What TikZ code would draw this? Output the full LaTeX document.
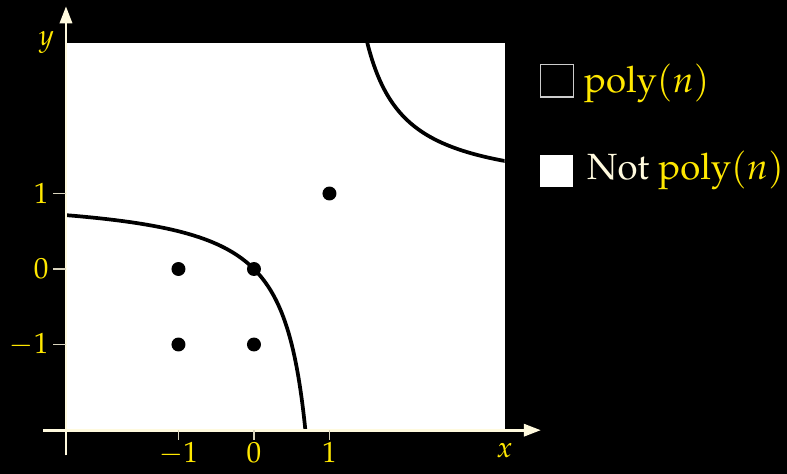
\documentclass[tikz,border=0pt]{standalone}
\usepackage[T1]{fontenc}
\usepackage{mathpazo}
\usetikzlibrary{arrows.meta,positioning}
\definecolor{SlideYellow}{RGB}{255,232,0}
\definecolor{SlideCream}{RGB}{255,250,222}

\begin{document}
\begin{tikzpicture}[x=2cm,y=2cm,>={Triangle[length=0.45cm,width=0.32cm]},
  axis/.style={->,SlideCream,line width=2.2pt},
  tickmark/.style={SlideCream!85!black,line width=1pt},
  ticklabel/.style={SlideYellow,font=\fontsize{22}{26}\selectfont},
  legendtext/.style={SlideYellow,font=\fontsize{27.5}{32}\selectfont,anchor=base west,inner sep=0pt},
  dot/.style={circle,fill=black,inner sep=0pt,minimum size=0.37cm}]
\useasboundingbox (-3.364,-2.715) rectangle (7.06,3.563);
\fill[black] (-3.364,-2.715) rectangle (7.06,3.563);
\fill[white] (-2.49,-2.135) rectangle (3.32,2.99);
% the two branches of (x-1)(y-1)=1
\begin{scope}
\clip (-2.49,-2.135) rectangle (3.32,2.99);
\draw[line width=2.8pt,variable=\s,domain=-1.2:1.3,samples=90] plot ({1-exp(\s)},{1-exp(-\s)});
\draw[line width=2.8pt,variable=\s,domain=-0.75:0.9,samples=90] plot ({1+exp(\s)},{1+exp(-\s)});
\end{scope}
\node[dot] (pmm) at (-1,-1) {};
\node[dot] (pzm) at (0,-1) {};
\node[dot] (pmz) at (-1,0) {};
\node[dot] (pzz) at (0,0) {};
\node[dot] (ppp) at (1,1) {};
% axes
\coordinate (xstart) at (-2.79,-2.135);
\coordinate (xend) at (3.8,-2.135);
\coordinate (ystart) at (-2.49,-2.47);
\coordinate (yend) at (-2.49,3.48);
\draw[axis] (xstart) -- (xend);
\draw[axis] (ystart) -- (yend);
\node[SlideYellow,font=\fontsize{22}{26}\selectfont] (xlab) at (3.32,-2.40) {$x$};
\node[SlideYellow,font=\fontsize{22}{26}\selectfont] (ylab) at (-2.75,3.0) {$y$};
% ticks
\foreach \t/\lab in {-1/$-1$,0/$0$,1/$1$}{
  \coordinate (xt\t) at (\t,-2.135);
  \coordinate (xb\t) at (\t,-2.26);
  \draw[tickmark] (xt\t) -- (xb\t);
  \node[ticklabel,anchor=north,inner sep=0pt] (xl\t) at ([yshift=-0.06cm]xb\t) {\lab};
  \coordinate (yt\t) at (-2.49,\t);
  \coordinate (yb\t) at (-2.66,\t);
  \draw[tickmark] (yt\t) -- (yb\t);
  \node[ticklabel,anchor=east] (yl\t) at (yb\t) {\lab};
}
% legend
\node[draw=white!80!black,line width=0.8pt,fill=black,minimum size=0.87cm,inner sep=0pt] (polybox) at (4.01,2.496) {};
\node[fill=white,minimum size=0.87cm,inner sep=0pt] (notbox) at (4.01,1.298) {};
\node[legendtext] (polytext) at (4.37,2.34) {poly$(n)$};
\node[legendtext] (nottext) at (4.41,1.19) {{\color{SlideCream}Not} poly$(n)$};
\end{tikzpicture}
\end{document}
